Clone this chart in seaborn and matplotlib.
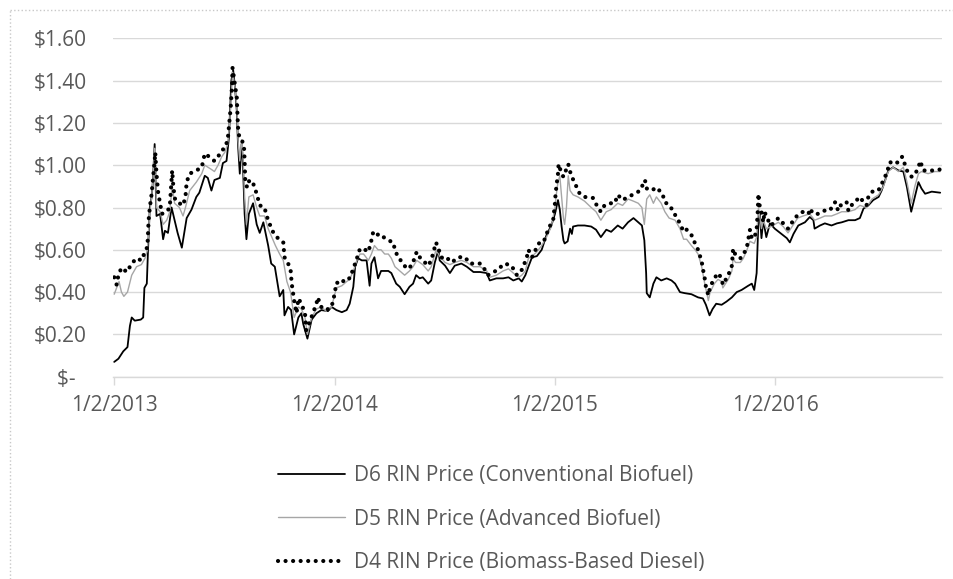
import numpy as np
import pandas as pd
import matplotlib
matplotlib.use("Agg")
import matplotlib.pyplot as plt
from matplotlib.lines import Line2D
import seaborn as sns

# ---------------- data ----------------
SERIES_LABELS = [
    "D6 RIN Price (Conventional Biofuel)",
    "D5 RIN Price (Advanced Biofuel)",
    "D4 RIN Price (Biomass-Based Diesel)",
]

d6_dates = [
    '2013-01-02','2013-01-09','2013-01-17','2013-01-24','2013-01-28','2013-01-31','2013-02-05','2013-02-15','2013-02-19','2013-02-21',
    '2013-02-25','2013-02-27','2013-03-02','2013-03-05','2013-03-07','2013-03-10','2013-03-13','2013-03-19','2013-03-24','2013-03-27',
    '2013-04-01','2013-04-07','2013-04-12','2013-04-17','2013-04-24','2013-05-02','2013-05-10','2013-05-18','2013-05-23','2013-06-01',
    '2013-06-06','2013-06-12','2013-06-17','2013-06-26','2013-07-01','2013-07-07','2013-07-11','2013-07-15','2013-07-18','2013-07-21',
    '2013-07-24','2013-07-26','2013-07-29','2013-08-01','2013-08-03','2013-08-06','2013-08-09','2013-08-13','2013-08-20','2013-08-26',
    '2013-08-31','2013-09-06','2013-09-14','2013-09-19','2013-09-25','2013-10-03','2013-10-09','2013-10-11','2013-10-17','2013-10-22',
    '2013-10-27','2013-11-03','2013-11-08','2013-11-11','2013-11-18','2013-11-25','2013-12-03','2013-12-11','2013-12-22','2013-12-28',
    '2014-01-05','2014-01-14','2014-01-22','2014-01-27','2014-02-02','2014-02-05','2014-02-10','2014-02-16','2014-02-24','2014-03-01',
    '2014-03-04','2014-03-09','2014-03-15','2014-03-20','2014-04-01','2014-04-06','2014-04-14','2014-04-20','2014-04-28','2014-05-06',
    '2014-05-12','2014-05-17','2014-05-23','2014-05-28','2014-06-06','2014-06-11','2014-06-17','2014-06-23','2014-06-25','2014-07-04',
    '2014-07-12','2014-07-20','2014-07-31','2014-08-09','2014-08-20','2014-08-31','2014-09-11','2014-09-16','2014-09-27','2014-10-08',
    '2014-10-17','2014-10-25','2014-11-03','2014-11-08','2014-11-14','2014-11-19','2014-11-25','2014-12-03','2014-12-11','2014-12-19',
    '2014-12-27',
    '2015-01-02','2015-01-07','2015-01-10','2015-01-13','2015-01-16','2015-01-18','2015-01-23','2015-01-27','2015-01-30','2015-02-01',
    '2015-02-09','2015-02-20','2015-03-03','2015-03-11','2015-03-19','2015-03-28','2015-04-05','2015-04-16','2015-04-24','2015-05-03',
    '2015-05-12','2015-05-20','2015-05-26','2015-05-30','2015-06-02','2015-06-03','2015-06-08','2015-06-14','2015-06-19','2015-06-27',
    '2015-07-06','2015-07-14','2015-07-20','2015-07-28','2015-08-05','2015-08-16','2015-08-27','2015-09-04','2015-09-09','2015-09-15',
    '2015-09-20','2015-09-26','2015-10-05','2015-10-13','2015-10-22','2015-10-30','2015-11-07','2015-11-18','2015-11-24','2015-11-28',
    '2015-12-02','2015-12-05','2015-12-07','2015-12-10','2015-12-13','2015-12-18','2015-12-24',
    '2016-01-01','2016-01-12','2016-01-21','2016-01-26','2016-02-01','2016-02-09','2016-02-20','2016-02-28','2016-03-05','2016-03-07',
    '2016-03-16','2016-03-24','2016-04-04','2016-04-13','2016-04-21','2016-05-02','2016-05-13','2016-05-21','2016-05-27','2016-06-04',
    '2016-06-12','2016-06-21','2016-06-26','2016-07-02','2016-07-07','2016-07-15','2016-07-24','2016-08-01','2016-08-07','2016-08-14',
    '2016-08-20','2016-08-26','2016-08-31','2016-09-06','2016-09-17','2016-10-01',
]
d6_values = [
    0.07, 0.085, 0.12, 0.14, 0.24, 0.28, 0.265, 0.27, 0.28, 0.42,
    0.44, 0.60, 0.80, 0.85, 0.92, 1.10, 0.76, 0.77, 0.65, 0.69,
    0.68, 0.80, 0.74, 0.68, 0.61, 0.75, 0.79, 0.85, 0.87, 0.95,
    0.94, 0.88, 0.93, 0.94, 1.01, 1.02, 1.13, 1.40, 1.45, 1.37,
    1.26, 1.10, 0.96, 1.10, 1.02, 0.77, 0.65, 0.77, 0.82, 0.72,
    0.68, 0.73, 0.62, 0.535, 0.52, 0.38, 0.41, 0.29, 0.33, 0.315,
    0.20, 0.28, 0.30, 0.25, 0.18, 0.27, 0.30, 0.315, 0.31, 0.33,
    0.315, 0.305, 0.315, 0.345, 0.425, 0.52, 0.56, 0.55, 0.55, 0.43,
    0.535, 0.565, 0.465, 0.50, 0.50, 0.49, 0.44, 0.425, 0.39, 0.425,
    0.44, 0.48, 0.465, 0.47, 0.44, 0.455, 0.54, 0.60, 0.55, 0.525,
    0.49, 0.525, 0.535, 0.52, 0.495, 0.495, 0.49, 0.455, 0.465, 0.465,
    0.47, 0.455, 0.465, 0.45, 0.48, 0.52, 0.565, 0.57, 0.60, 0.67,
    0.715,
    0.77, 0.835, 0.79, 0.71, 0.645, 0.63, 0.64, 0.70, 0.675, 0.71,
    0.715, 0.715, 0.71, 0.695, 0.66, 0.695, 0.685, 0.715, 0.70, 0.73,
    0.75, 0.73, 0.715, 0.645, 0.49, 0.395, 0.375, 0.44, 0.47, 0.455,
    0.465, 0.455, 0.44, 0.40, 0.395, 0.39, 0.375, 0.37, 0.34, 0.29,
    0.32, 0.345, 0.34, 0.355, 0.375, 0.40, 0.41, 0.43, 0.44, 0.41,
    0.49, 0.74, 0.78, 0.655, 0.74, 0.66, 0.725,
    0.70, 0.675, 0.655, 0.635, 0.675, 0.715, 0.73, 0.755, 0.74, 0.70,
    0.715, 0.725, 0.715, 0.725, 0.73, 0.74, 0.74, 0.75, 0.795, 0.81,
    0.835, 0.85, 0.88, 0.93, 0.975, 0.99, 0.975, 0.97, 0.895, 0.78,
    0.85, 0.92, 0.89, 0.865, 0.875, 0.87,
]

d5_dates = [
    '2013-01-02','2013-01-06','2013-01-10','2013-01-14','2013-01-18','2013-01-24','2013-01-31','2013-02-08','2013-02-16','2013-02-22',
    '2013-02-26','2013-03-02','2013-03-05','2013-03-07','2013-03-10','2013-03-11','2013-03-13','2013-03-19','2013-03-24','2013-03-30',
    '2013-04-04','2013-04-08','2013-04-12','2013-04-20','2013-04-26','2013-04-30','2013-05-07','2013-05-18','2013-05-27','2013-06-01',
    '2013-06-12','2013-06-17','2013-06-23','2013-06-29','2013-07-04','2013-07-09','2013-07-11','2013-07-14','2013-07-16','2013-07-17',
    '2013-07-21','2013-07-24','2013-07-26','2013-07-29','2013-08-01','2013-08-03','2013-08-06','2013-08-09','2013-08-13','2013-08-20',
    '2013-08-26','2013-08-31','2013-09-08','2013-09-14','2013-09-20','2013-09-26','2013-10-03','2013-10-09','2013-10-15','2013-10-21',
    '2013-10-27','2013-11-03','2013-11-08','2013-11-14','2013-11-18','2013-11-25','2013-12-03','2013-12-11','2013-12-19','2013-12-28',
    '2014-01-05','2014-01-14','2014-01-22','2014-01-27','2014-02-02','2014-02-08','2014-02-13','2014-02-19','2014-02-27','2014-03-04',
    '2014-03-09','2014-03-15','2014-03-20','2014-03-26','2014-04-01','2014-04-06','2014-04-12','2014-04-20','2014-04-28','2014-05-06',
    '2014-05-12','2014-05-18','2014-05-28','2014-06-06','2014-06-11','2014-06-19','2014-06-25','2014-07-04','2014-07-12','2014-07-20',
    '2014-07-31','2014-08-09','2014-08-20','2014-08-31','2014-09-11','2014-09-16','2014-09-27','2014-10-08','2014-10-17','2014-10-25',
    '2014-11-03','2014-11-08','2014-11-14','2014-11-19','2014-11-25','2014-12-03','2014-12-11','2014-12-19','2014-12-27',
    '2015-01-02','2015-01-05','2015-01-07','2015-01-10','2015-01-13','2015-01-16','2015-01-18','2015-01-21','2015-01-24','2015-01-27',
    '2015-02-01','2015-02-09','2015-02-20','2015-03-03','2015-03-11','2015-03-19','2015-03-28','2015-04-05','2015-04-16','2015-04-24',
    '2015-05-03','2015-05-12','2015-05-20','2015-05-26','2015-05-30','2015-06-03','2015-06-08','2015-06-14','2015-06-19','2015-06-27',
    '2015-07-03','2015-07-10','2015-07-20','2015-07-28','2015-08-03','2015-08-08','2015-08-16','2015-08-22','2015-08-27','2015-09-02',
    '2015-09-07','2015-09-13','2015-09-16','2015-09-23','2015-09-29','2015-10-05','2015-10-07','2015-10-16','2015-10-22','2015-10-24',
    '2015-10-28','2015-11-05','2015-11-10','2015-11-16','2015-11-21','2015-11-28','2015-12-02','2015-12-05','2015-12-07','2015-12-10',
    '2015-12-13','2015-12-18','2015-12-26',
    '2016-01-07','2016-01-15','2016-01-23','2016-02-01','2016-02-08','2016-02-17','2016-02-28','2016-03-07','2016-03-16','2016-03-24',
    '2016-04-04','2016-04-13','2016-04-21','2016-05-02','2016-05-13','2016-05-21','2016-06-01','2016-06-10','2016-06-21','2016-06-29',
    '2016-07-07','2016-07-15','2016-07-24','2016-08-01','2016-08-07','2016-08-14','2016-08-20','2016-08-26','2016-08-31','2016-09-11',
    '2016-09-22','2016-10-01',
]
d5_values = [
    0.39, 0.42, 0.45, 0.40, 0.38, 0.40, 0.48, 0.52, 0.53, 0.56,
    0.60, 0.78, 0.85, 0.92, 1.08, 1.05, 0.80, 0.78, 0.72, 0.74,
    0.78, 0.90, 0.82, 0.80, 0.76, 0.80, 0.88, 0.92, 0.96, 1.00,
    0.98, 0.97, 1.00, 1.04, 1.06, 1.10, 1.16, 1.28, 1.38, 1.44,
    1.37, 1.28, 1.12, 1.02, 1.12, 1.06, 0.85, 0.72, 0.85, 0.86,
    0.80, 0.76, 0.76, 0.70, 0.66, 0.62, 0.58, 0.55, 0.45, 0.40,
    0.28, 0.33, 0.32, 0.28, 0.20, 0.28, 0.32, 0.33, 0.31, 0.33,
    0.42, 0.43, 0.45, 0.46, 0.50, 0.55, 0.58, 0.58, 0.55, 0.58,
    0.62, 0.60, 0.60, 0.58, 0.58, 0.56, 0.52, 0.50, 0.48, 0.50,
    0.52, 0.55, 0.53, 0.50, 0.52, 0.60, 0.57, 0.54, 0.53, 0.54,
    0.55, 0.54, 0.52, 0.52, 0.50, 0.47, 0.48, 0.50, 0.51, 0.49,
    0.47, 0.48, 0.50, 0.56, 0.57, 0.59, 0.62, 0.66, 0.71,
    0.80, 0.88, 0.92, 0.95, 0.85, 0.75, 0.72, 0.80, 0.95, 0.88,
    0.86, 0.85, 0.83, 0.80, 0.78, 0.74, 0.78, 0.79, 0.82, 0.81,
    0.84, 0.83, 0.82, 0.80, 0.72, 0.84, 0.86, 0.82, 0.85, 0.82,
    0.78, 0.75, 0.74, 0.70, 0.65, 0.65, 0.62, 0.60, 0.58, 0.52,
    0.44, 0.36, 0.40, 0.44, 0.46, 0.45, 0.42, 0.46, 0.50, 0.56,
    0.54, 0.54, 0.56, 0.60, 0.64, 0.63, 0.66, 0.80, 0.76, 0.70,
    0.74, 0.70, 0.71,
    0.73, 0.71, 0.68, 0.72, 0.75, 0.76, 0.77, 0.74, 0.75, 0.76,
    0.76, 0.77, 0.78, 0.78, 0.79, 0.81, 0.80, 0.84, 0.86, 0.90,
    0.97, 0.99, 0.97, 0.99, 0.92, 0.82, 0.90, 0.96, 0.97, 0.96,
    0.97, 0.97,
]

d4_dates = [
    '2013-01-02','2013-01-06','2013-01-09','2013-01-14','2013-01-23','2013-01-31','2013-02-08','2013-02-16','2013-02-22','2013-02-26',
    '2013-02-28','2013-03-02','2013-03-05','2013-03-07','2013-03-10','2013-03-11','2013-03-13','2013-03-16','2013-03-19','2013-03-22',
    '2013-03-30','2013-04-04','2013-04-08','2013-04-10','2013-04-13','2013-04-20','2013-04-26','2013-04-30','2013-05-02','2013-05-07',
    '2013-05-18','2013-05-27','2013-06-01','2013-06-06','2013-06-12','2013-06-17','2013-06-23','2013-06-29','2013-07-04','2013-07-09',
    '2013-07-11','2013-07-14','2013-07-16','2013-07-17','2013-07-21','2013-07-24','2013-07-26','2013-07-28','2013-08-01','2013-08-05',
    '2013-08-06','2013-08-07','2013-08-10','2013-08-14','2013-08-20','2013-08-26','2013-08-31','2013-09-08','2013-09-11','2013-09-14',
    '2013-09-16','2013-09-22','2013-09-30','2013-10-09','2013-10-11','2013-10-17','2013-10-21','2013-10-23','2013-10-27','2013-10-31',
    '2013-11-03','2013-11-08','2013-11-14','2013-11-16','2013-11-22','2013-11-27','2013-12-03','2013-12-05','2013-12-11','2013-12-19',
    '2013-12-28',
    '2014-01-02','2014-01-05','2014-01-14','2014-01-19','2014-01-27','2014-02-02','2014-02-08','2014-02-13','2014-02-19','2014-02-27',
    '2014-03-04','2014-03-07','2014-03-12','2014-03-19','2014-03-26','2014-04-01','2014-04-09','2014-04-12','2014-04-17','2014-04-26',
    '2014-05-01','2014-05-10','2014-05-18','2014-05-23','2014-05-28','2014-06-06','2014-06-11','2014-06-19','2014-06-23','2014-06-28',
    '2014-07-04','2014-07-12','2014-07-17','2014-07-26','2014-08-06','2014-08-14','2014-08-31','2014-09-05','2014-09-13','2014-09-22',
    '2014-09-30','2014-10-06','2014-10-11','2014-10-22','2014-10-31','2014-11-08','2014-11-16','2014-11-19','2014-11-25','2014-12-01',
    '2014-12-06','2014-12-14','2014-12-19','2014-12-25','2014-12-30',
    '2015-01-02','2015-01-03','2015-01-05','2015-01-07','2015-01-08','2015-01-13','2015-01-16','2015-01-18','2015-01-24','2015-01-27',
    '2015-01-30','2015-02-07','2015-02-12','2015-02-20','2015-03-06','2015-03-14','2015-03-19','2015-03-25','2015-04-03','2015-04-11',
    '2015-04-16','2015-04-24','2015-05-03','2015-05-14','2015-05-23','2015-05-31','2015-06-03','2015-06-11','2015-06-19','2015-06-29',
    '2015-07-03','2015-07-11','2015-07-20','2015-07-28','2015-08-03','2015-08-08','2015-08-16','2015-08-22','2015-08-27','2015-09-02',
    '2015-09-04','2015-09-07','2015-09-09','2015-09-13','2015-09-16','2015-09-23','2015-09-29','2015-10-05','2015-10-07','2015-10-16',
    '2015-10-22','2015-10-24','2015-10-28','2015-11-05','2015-11-10','2015-11-16','2015-11-21','2015-11-24','2015-11-28','2015-12-02',
    '2015-12-04','2015-12-05','2015-12-06','2015-12-07','2015-12-10','2015-12-13','2015-12-15','2015-12-21','2015-12-26',
    '2016-01-07','2016-01-15','2016-01-23','2016-02-01','2016-02-08','2016-02-17','2016-02-26','2016-02-28','2016-03-05','2016-03-13',
    '2016-03-23','2016-04-01','2016-04-10','2016-04-15','2016-04-21','2016-04-29','2016-05-02','2016-05-07','2016-05-21','2016-05-27',
    '2016-06-01','2016-06-04','2016-06-10','2016-06-18','2016-06-23','2016-06-29','2016-07-04','2016-07-10','2016-07-15','2016-07-24',
    '2016-07-30','2016-08-04','2016-08-09','2016-08-15','2016-08-20','2016-08-26','2016-08-29','2016-09-03','2016-09-11','2016-09-22',
    '2016-10-01',
]
d4_values = [
    0.47, 0.435, 0.48, 0.515, 0.495, 0.535, 0.56, 0.55, 0.59, 0.615,
    0.74, 0.80, 0.865, 0.93, 1.02, 1.06, 0.96, 0.865, 0.82, 0.77,
    0.78, 0.80, 0.975, 0.895, 0.835, 0.82, 0.81, 0.85, 0.92, 0.96,
    0.975, 0.99, 1.055, 1.045, 1.03, 1.02, 1.04, 1.07, 1.08, 1.12,
    1.18, 1.275, 1.37, 1.46, 1.38, 1.32, 1.18, 1.135, 1.125, 1.085,
    1.02, 0.93, 0.895, 0.93, 0.915, 0.865, 0.81, 0.80, 0.765, 0.74,
    0.725, 0.685, 0.655, 0.635, 0.565, 0.535, 0.51, 0.44, 0.36, 0.30,
    0.37, 0.345, 0.30, 0.22, 0.26, 0.30, 0.345, 0.375, 0.33, 0.315,
    0.33,
    0.39, 0.445, 0.44, 0.465, 0.465, 0.51, 0.56, 0.605, 0.605, 0.59,
    0.645, 0.685, 0.67, 0.675, 0.655, 0.645, 0.635, 0.60, 0.565, 0.535,
    0.51, 0.525, 0.59, 0.565, 0.55, 0.525, 0.55, 0.635, 0.605, 0.565,
    0.55, 0.56, 0.545, 0.565, 0.565, 0.535, 0.535, 0.52, 0.48, 0.495,
    0.505, 0.525, 0.535, 0.525, 0.48, 0.505, 0.56, 0.60, 0.565, 0.60,
    0.63, 0.635, 0.675, 0.715, 0.74,
    0.82, 0.865, 0.915, 0.96, 1.005, 0.96, 0.945, 0.96, 1.005, 0.97,
    0.945, 0.895, 0.865, 0.85, 0.845, 0.80, 0.78, 0.81, 0.82, 0.82,
    0.86, 0.835, 0.85, 0.865, 0.88, 0.93, 0.89, 0.88, 0.895, 0.865,
    0.825, 0.81, 0.765, 0.725, 0.685, 0.695, 0.67, 0.63, 0.60, 0.545,
    0.51, 0.465, 0.425, 0.385, 0.425, 0.465, 0.49, 0.465, 0.435, 0.48,
    0.525, 0.605, 0.575, 0.56, 0.575, 0.615, 0.695, 0.655, 0.655, 0.695,
    0.79, 0.865, 0.825, 0.81, 0.78, 0.73, 0.78, 0.74, 0.715,
    0.75, 0.725, 0.70, 0.74, 0.765, 0.78, 0.77, 0.795, 0.77, 0.77,
    0.785, 0.785, 0.825, 0.785, 0.82, 0.825, 0.785, 0.81, 0.85, 0.825,
    0.81, 0.85, 0.875, 0.875, 0.89, 0.93, 0.96, 1.015, 1.005, 1.015,
    1.04, 1.00, 0.96, 0.945, 0.955, 0.99, 1.02, 0.975, 0.975, 0.975,
    0.98,
]

x_tick_dates = ['2013-01-02', '2014-01-02', '2015-01-02', '2016-01-02']
x_tick_labels = ['1/2/2013', '1/2/2014', '1/2/2015', '1/2/2016']
y_tick_values = [0.0, 0.2, 0.4, 0.6, 0.8, 1.0, 1.2, 1.4, 1.6]
y_tick_labels = ['$-  ', '$0.20', '$0.40', '$0.60', '$0.80', '$1.00', '$1.20', '$1.40', '$1.60']

assert len(d6_dates) == len(d6_values), (len(d6_dates), len(d6_values))
assert len(d5_dates) == len(d5_values), (len(d5_dates), len(d5_values))
assert len(d4_dates) == len(d4_values), (len(d4_dates), len(d4_values))

# ---------------- style ----------------
sns.set_theme(style="white")
plt.rcParams['font.family'] = ['Open Sans', 'DejaVu Sans']
TEXT_GRAY = '#595959'
GRID_GRAY = '#d9d9d9'
FS = 15

W, H = 954, 579
fig = plt.figure(figsize=(W / 100, H / 100), dpi=100)
ax_left, ax_right, ax_top, ax_bottom = 113, 942, 38.3, 376.7
ax = fig.add_axes([ax_left / W, 1 - ax_bottom / H, (ax_right - ax_left) / W, (ax_bottom - ax_top) / H])

sns.lineplot(x=pd.to_datetime(d6_dates), y=d6_values, ax=ax, color='black', lw=1.3,
             label=SERIES_LABELS[0], zorder=3)
sns.lineplot(x=pd.to_datetime(d5_dates), y=d5_values, ax=ax, color='#a6a6a6', lw=1.0,
             label=SERIES_LABELS[1], zorder=4)
sns.lineplot(x=pd.to_datetime(d4_dates), y=d4_values, ax=ax, color='black', lw=3.0,
             linestyle=(0, (0.01, 1.8)), dash_capstyle='round',
             label=SERIES_LABELS[2], zorder=5)

ax.set_xlim(pd.Timestamp('2012-12-31'), pd.Timestamp('2016-10-04'))
ax.set_ylim(0, 1.6)
ax.set_xticks(pd.to_datetime(x_tick_dates))
ax.set_xticklabels(x_tick_labels)
ax.set_yticks(y_tick_values)
ax.set_yticklabels(y_tick_labels)
ax.set_xlabel('')
ax.set_ylabel('')

ax.yaxis.grid(True, color=GRID_GRAY, lw=1.0)
ax.xaxis.grid(False)
for s in ['left', 'right', 'top']:
    ax.spines[s].set_visible(False)
ax.spines['bottom'].set_color(GRID_GRAY)
ax.spines['bottom'].set_linewidth(1.0)

ax.tick_params(axis='y', length=0, pad=19, labelsize=FS, labelcolor=TEXT_GRAY)
ax.tick_params(axis='x', length=6, width=1, color=GRID_GRAY, pad=7, labelsize=FS,
               labelcolor=TEXT_GRAY, direction='out')
ax.xaxis.set_ticks_position('bottom')

handles, labels = ax.get_legend_handles_labels()
ax.get_legend().remove()
leg = fig.legend(handles, labels, loc='center', bbox_to_anchor=(0.515, 1 - 519 / H),
                 frameon=False, fontsize=FS, handlelength=3.2, handletextpad=0.45,
                 labelspacing=1.08, borderpad=0)
for t in leg.get_texts():
    t.set_color(TEXT_GRAY)

# outer chart frame (left and top edges visible)
fig.add_artist(Line2D([10 / W, 10 / W], [0, 1 - 10 / H], transform=fig.transFigure,
                      color='#c8c8c8', lw=1, ls=':'))
fig.add_artist(Line2D([10 / W, 1], [1 - 10 / H, 1 - 10 / H], transform=fig.transFigure,
                      color='#c8c8c8', lw=1, ls=':'))

fig.savefig('out.png', dpi=100, facecolor='white')
